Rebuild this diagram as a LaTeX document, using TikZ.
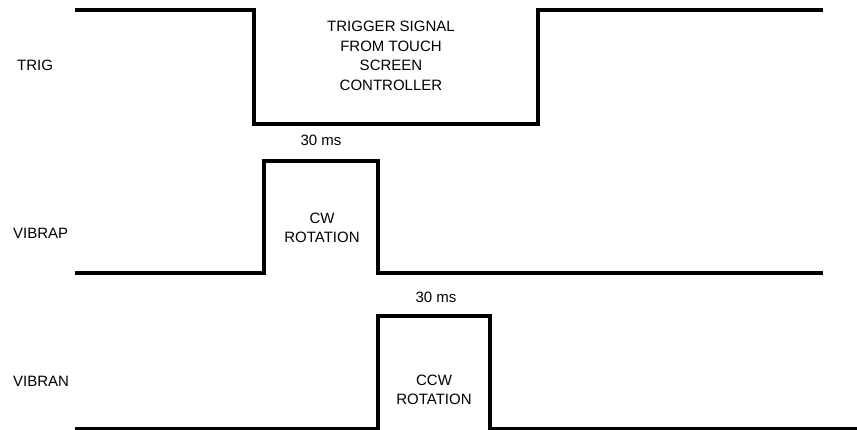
\documentclass[tikz,border=0pt]{standalone}
\usepackage{fontspec}
\setmainfont{Liberation Sans}
\usetikzlibrary{positioning}

\begin{document}
\begin{tikzpicture}[
  x=1pt, y=-1pt,
  wave/.style={line width=3.5pt, line join=miter},
  sig/.style={font=\fontsize{15}{19}\selectfont, anchor=west, inner sep=0pt},
  note/.style={font=\fontsize{15}{19.5}\selectfont, align=center, inner sep=0pt}
]
\useasboundingbox (0,0) rectangle (857,429);
% signal names
\node[sig] (trig)   at (17,65.5)  {TRIG};
\node[sig] (vibrap) at (13,233)   {VIBRAP};
\node[sig] (vibran) at (13,381.5) {VIBRAN};
% waveforms
\draw[wave] (75,10) -| (254,124) -| (538,10) -- (823,10);
\draw[wave] (75,273) -| (264,161) -| (378,273) -- (823,273);
\draw[wave] (75,428.5) -| (378,316) -| (490,428.5) -- (857,428.5);
% annotations
\node[note] (trigtxt) at (391,56) {TRIGGER SIGNAL\\FROM TOUCH\\SCREEN\\CONTROLLER};
\node[note] (cwtime)  at (321,140) {30 ms};
\node[note] (cwtxt)   at (322,228) {CW\\ROTATION};
\node[note] (ccwtime) at (436,297) {30 ms};
\node[note] (ccwtxt)  at (434,390) {CCW\\ROTATION};
\end{tikzpicture}
\end{document}
